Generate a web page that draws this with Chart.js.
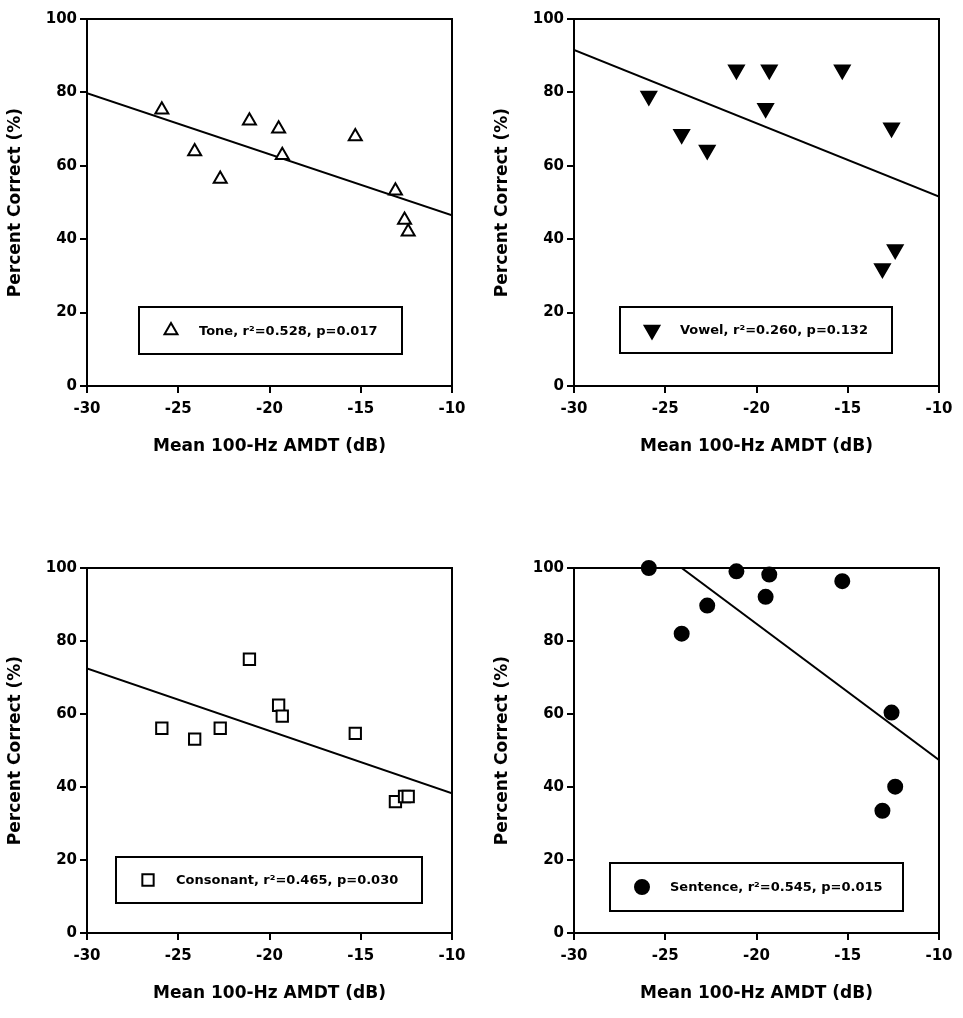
<!DOCTYPE html>
<html><head><meta charset="utf-8">
<script src="https://cdn.jsdelivr.net/npm/chart.js@4.4.1/dist/chart.umd.min.js"></script>
<style>
html,body{margin:0;padding:0;background:#fff;width:963px;height:1018px;overflow:hidden}
canvas{position:absolute}
</style></head><body>
<canvas id="c1" width="481" height="470" style="left:0;top:0"></canvas>
<canvas id="c2" width="476" height="470" style="left:487px;top:0"></canvas>
<canvas id="c3" width="481" height="469" style="left:0;top:549px"></canvas>
<canvas id="c4" width="476" height="469" style="left:487px;top:549px"></canvas>
<script>
// ---- data ----
const amdt = [-25.9, -24.1, -22.7, -21.1, -19.5, -19.3, -15.3, -13.1, -12.6, -12.4];
const toneScores      = [75.3, 63.9, 56.4, 72.3, 70.1, 62.9, 68.0, 53.2, 45.2, 42.0];
const vowelScores     = [79.0, 68.6, 64.3, 86.2, 75.7, 86.2, 86.2, 32.0, 70.4, 37.2];
const consonantScores = [56.1, 53.1, 56.1, 75.0, 62.4, 59.4, 54.7, 36.0, 37.4, 37.4];
const sentenceScores  = [100.0, 82.0, 89.7, 99.1, 92.1, 98.2, 96.4, 33.5, 60.4, 40.1];
const toneFitX = [-30, -10],      toneFitY = [79.8, 46.5];
const vowelFitX = [-30, -10],     vowelFitY = [91.6, 51.6];
const consonantFitX = [-30, -10], consonantFitY = [72.5, 38.3];
const sentenceFitX = [-24.1, -10], sentenceFitY = [100, 47.4];
const legendTexts = [
  "Tone, r\u00B2=0.528, p=0.017",
  "Vowel, r\u00B2=0.260, p=0.132",
  "Consonant, r\u00B2=0.465, p=0.030",
  "Sentence, r\u00B2=0.545, p=0.015"
];
const seriesNames = ["Tone", "Vowel", "Consonant", "Sentence"];
const xTicks = [-30, -25, -20, -15, -10];
const yTicks = [0, 20, 40, 60, 80, 100];
const xTitle = "Mean 100-Hz AMDT (dB)";
const yTitle = "Percent Correct (%)";

// ---- styling / layout ----
const FONT = '"DejaVu Sans", "Liberation Sans", sans-serif';
const panels = [
  {id:'c1', scores: toneScores, fx: toneFitX, fy: toneFitY, style:'triangle', rot:0, fill:'#fff', r:7.5, padR:29, padB:4, leg:{x:52,y:288,w:263,h:47}},
  {id:'c2', scores: vowelScores, fx: vowelFitX, fy: vowelFitY, style:'triangle', rot:180, fill:'#000', r:8.5, padR:24, padB:4, leg:{x:46,y:288,w:272,h:46}},
  {id:'c3', scores: consonantScores, fx: consonantFitX, fy: consonantFitY, style:'rect', rot:0, fill:'#fff', r:8, padR:29, padB:5, leg:{x:29,y:289,w:306,h:46}},
  {id:'c4', scores: sentenceScores, fx: sentenceFitX, fy: sentenceFitY, style:'circle', rot:0, fill:'#000', r:7, padR:24, padB:5, leg:{x:36,y:295,w:293,h:48}}
];

const framePlugin = {
  id: 'frame',
  beforeDatasetsDraw(chart) {
    const {ctx, chartArea: a} = chart;
    ctx.save();
    ctx.lineWidth = 2; ctx.strokeStyle = '#000';
    ctx.strokeRect(a.left, a.top, a.right - a.left, a.bottom - a.top);
    ctx.restore();
  }
};
const boxLegend = {
  id: 'boxLegend',
  afterDatasetsDraw(chart, args, opts) {
    const {ctx, chartArea: a} = chart;
    const x = a.left + opts.x, y = a.top + opts.y;
    ctx.save();
    ctx.fillStyle = '#fff'; ctx.fillRect(x, y, opts.w, opts.h);
    ctx.lineWidth = 2; ctx.strokeStyle = '#000'; ctx.strokeRect(x, y, opts.w, opts.h);
    const ds = chart.data.datasets[0];
    ctx.fillStyle = ds.backgroundColor; ctx.strokeStyle = ds.borderColor; ctx.lineWidth = ds.borderWidth;
    Chart.helpers.drawPoint(ctx, {pointStyle: ds.pointStyle, rotation: ds.rotation, radius: ds.pointRadius, borderWidth: ds.borderWidth}, x + 32, y + opts.h / 2);
    ctx.fillStyle = '#000';
    ctx.font = 'bold 13px ' + FONT;
    ctx.textBaseline = 'middle'; ctx.textAlign = 'left';
    ctx.fillText(opts.text, x + 60, y + opts.h / 2 + 1);
    ctx.restore();
  }
};

panels.forEach((p, i) => {
  new Chart(document.getElementById(p.id), {
    type: 'scatter',
    data: {
      datasets: [
        {
          label: seriesNames[i],
          data: amdt.map((x, k) => ({x, y: p.scores[k]})),
          pointStyle: p.style, rotation: p.rot, pointRadius: p.r, pointHoverRadius: p.r,
          backgroundColor: p.fill, borderColor: '#000', borderWidth: 2, clip: false
        },
        {
          type: 'line', label: 'fit',
          data: p.fx.map((x, k) => ({x, y: p.fy[k]})),
          borderColor: '#000', borderWidth: 2, pointRadius: 0, fill: false
        }
      ]
    },
    options: {
      responsive: false, animation: false, events: [],
      devicePixelRatio: 1,
      layout: {padding: {left: 0, top: 19, right: p.padR, bottom: p.padB}},
      plugins: {
        legend: {display: false}, tooltip: {enabled: false},
        boxLegend: Object.assign({text: legendTexts[i]}, p.leg)
      },
      scales: {
        x: {
          type: 'linear', min: -30, max: -10,
          afterBuildTicks: s => { s.ticks = xTicks.map(v => ({value: v})); },
          afterFit: s => { s.height = 80; },
          border: {display: false},
          grid: {display: true, drawOnChartArea: false, drawTicks: true, tickLength: 7, tickColor: '#000', tickWidth: 2, lineWidth: 2},
          ticks: {color: '#000', padding: 7, maxRotation: 0, font: {family: FONT, size: 15, weight: 'bold'}},
          title: {display: true, text: xTitle, color: '#000', padding: {top: 0, bottom: 9}, font: {family: FONT, size: 17, weight: 'bold'}}
        },
        y: {
          type: 'linear', min: 0, max: 100,
          afterBuildTicks: s => { s.ticks = yTicks.map(v => ({value: v})); },
          afterFit: s => { s.width = 87; },
          border: {display: false},
          grid: {display: true, drawOnChartArea: false, drawTicks: true, tickLength: 7, tickColor: '#000', tickWidth: 2, lineWidth: 2},
          ticks: {color: '#000', padding: 3, font: {family: FONT, size: 15, weight: 'bold'}},
          title: {display: true, text: yTitle, color: '#000', padding: {top: 5, bottom: 0}, font: {family: FONT, size: 17, weight: 'bold'}}
        }
      }
    },
    plugins: [framePlugin, boxLegend]
  });
});
</script>
</body></html>
